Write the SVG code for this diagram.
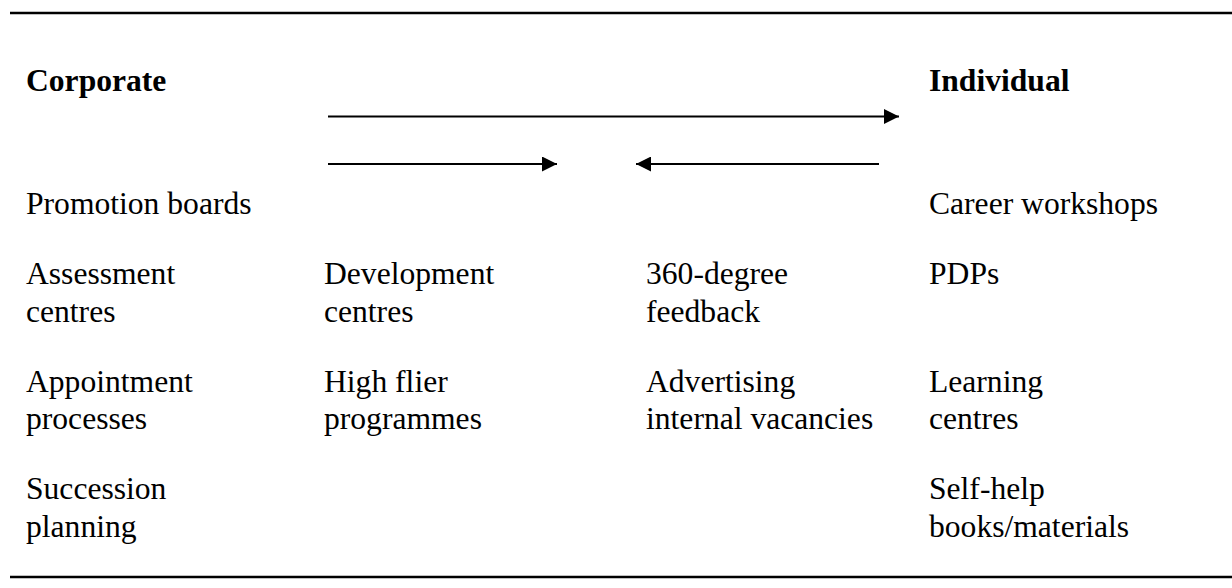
<svg xmlns="http://www.w3.org/2000/svg" width="1232" height="588" viewBox="0 0 1232 588">
<defs>
<style>
text{font-family:"Liberation Serif","Times New Roman",serif;font-size:31.6px;fill:#000}
.b{font-weight:bold}
.rule{stroke:#000;stroke-width:2.4}
.arr{stroke:#000;stroke-width:2;fill:none}
</style>
<marker id="ah" markerUnits="userSpaceOnUse" markerWidth="15" markerHeight="15" refX="15" refY="7.5" orient="auto">
<path d="M0,0 L15,7.5 L0,15 Z" fill="#000"/>
</marker>
</defs>
<rect width="1232" height="588" fill="#fff"/>
<line class="rule" x1="10" y1="13" x2="1232" y2="13"/>
<line class="rule" x1="10" y1="577" x2="1232" y2="577"/>
<g id="connectors">
<line class="arr" x1="328" y1="116.5" x2="899" y2="116.5" marker-end="url(#ah)"/>
<line class="arr" x1="328" y1="164" x2="557" y2="164" marker-end="url(#ah)"/>
<line class="arr" x1="879" y1="164" x2="636" y2="164" marker-end="url(#ah)"/>
</g>
<g id="corporate"><text class="b" x="26" y="91">Corporate</text></g>
<g id="individual"><text class="b" x="929" y="91">Individual</text></g>
<g id="promotion-boards"><text x="26" y="214">Promotion boards</text></g>
<g id="career-workshops"><text x="929" y="214">Career workshops</text></g>
<g id="assessment-centres"><text x="26" y="284">Assessment</text><text x="26" y="321.5">centres</text></g>
<g id="development-centres"><text x="324" y="284">Development</text><text x="324" y="321.5">centres</text></g>
<g id="feedback-360"><text x="646" y="284">360-degree</text><text x="646" y="321.5">feedback</text></g>
<g id="pdps"><text x="929" y="284">PDPs</text></g>
<g id="appointment-processes"><text x="26" y="391.5">Appointment</text><text x="26" y="429">processes</text></g>
<g id="high-flier"><text x="324" y="391.5">High flier</text><text x="324" y="429">programmes</text></g>
<g id="advertising"><text x="646" y="391.5">Advertising</text><text x="646" y="429">internal vacancies</text></g>
<g id="learning-centres"><text x="929" y="391.5">Learning</text><text x="929" y="429">centres</text></g>
<g id="succession-planning"><text x="26" y="499">Succession</text><text x="26" y="536.5">planning</text></g>
<g id="self-help"><text x="929" y="499">Self-help</text><text x="929" y="536.5">books/materials</text></g>
</svg>
